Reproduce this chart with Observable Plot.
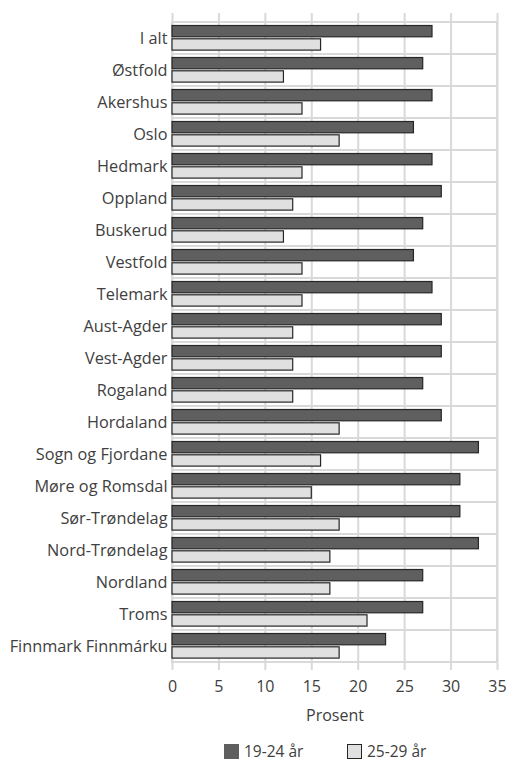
<!DOCTYPE html>
<html><head><meta charset="utf-8">
<script src="https://cdn.jsdelivr.net/npm/d3@7"></script>
<script src="https://cdn.jsdelivr.net/npm/@observablehq/plot@0.6"></script>
<style>
html,body{margin:0;padding:0;background:#fff;font-family:"Open Sans",sans-serif;color:#404040}
#chart svg{display:block}
#legend{position:relative;height:31px;font-size:15.5px;overflow:visible}
#legend span.item{position:absolute;top:13px;display:flex;align-items:center;gap:5px;line-height:17px;height:17px}
#legend span.sw{display:inline-block;width:15px;height:15px;box-sizing:border-box}
</style></head><body><div id="chart"></div><div id="legend"></div>
<script>
const regions = ["I alt","Østfold","Akershus","Oslo","Hedmark","Oppland","Buskerud","Vestfold","Telemark","Aust-Agder","Vest-Agder","Rogaland","Hordaland","Sogn og Fjordane","Møre og Romsdal","Sør-Trøndelag","Nord-Trøndelag","Nordland","Troms","Finnmark Finnmárku"];
const age1924 = [28,27,28,26,28,29,27,26,28,29,29,27,29,33,31,31,33,27,27,23];
const age2529 = [16,12,14,18,14,13,12,14,14,13,13,13,18,16,15,18,17,17,21,18];
const seriesNames = ["19-24 år","25-29 år"];
const xTicks = [0,5,10,15,20,25,30,35];
const colors = ["#5f5f5f","#e0e0e0"];

const d1 = regions.map((r,i)=>({region:r, series:seriesNames[0], value:age1924[i]}));
const d2 = regions.map((r,i)=>({region:r, series:seriesNames[1], value:age2529[i]}));

const plot = Plot.plot({
  width:509, height:730,
  marginTop:13, marginBottom:60, marginLeft:172, marginRight:12,
  style:{fontFamily:"Open Sans", fontSize:"16px", color:"#404040", background:"#fff"},
  x:{domain:[0,35]},
  y:{domain:regions, padding:0},
  marks:[
    Plot.barX(regions,{y:d=>d, x1:0, x2:35, fill:"white", stroke:"#d9d9d9", strokeWidth:2}),
    Plot.gridX(xTicks,{stroke:"#d9d9d9", strokeOpacity:1, strokeWidth:2}),
    Plot.barX(d1,{y:"region", x:"value", fill:colors[0], stroke:"#262626", strokeWidth:1.2, insetTop:3.5, insetBottom:17.2}),
    Plot.barX(d2,{y:"region", x:"value", fill:colors[1], stroke:"#262626", strokeWidth:1.2, insetTop:16.8, insetBottom:3.9}),
    Plot.axisY({tickSize:0, tickPadding:5, label:null, fontSize:16.3}),
    Plot.axisX({ticks:xTicks, tickSize:0, tickPadding:10, fontSize:16, label:"Prosent", labelAnchor:"center", labelArrow:"none", labelOffset:50})
  ]
});
document.getElementById("chart").appendChild(plot);

const lg = document.getElementById("legend");
const legendX = [224, 347];
seriesNames.forEach((s,i)=>{
  const it = document.createElement("span"); it.className="item";
  it.style.left = legendX[i] + "px";
  const sw = document.createElement("span"); sw.className="sw";
  sw.style.background = colors[i];
  if(i===1) sw.style.border = "1.2px solid #262626";
  const t = document.createElement("span"); t.textContent = s;
  it.appendChild(sw); it.appendChild(t); lg.appendChild(it);
});
</script></body></html>
